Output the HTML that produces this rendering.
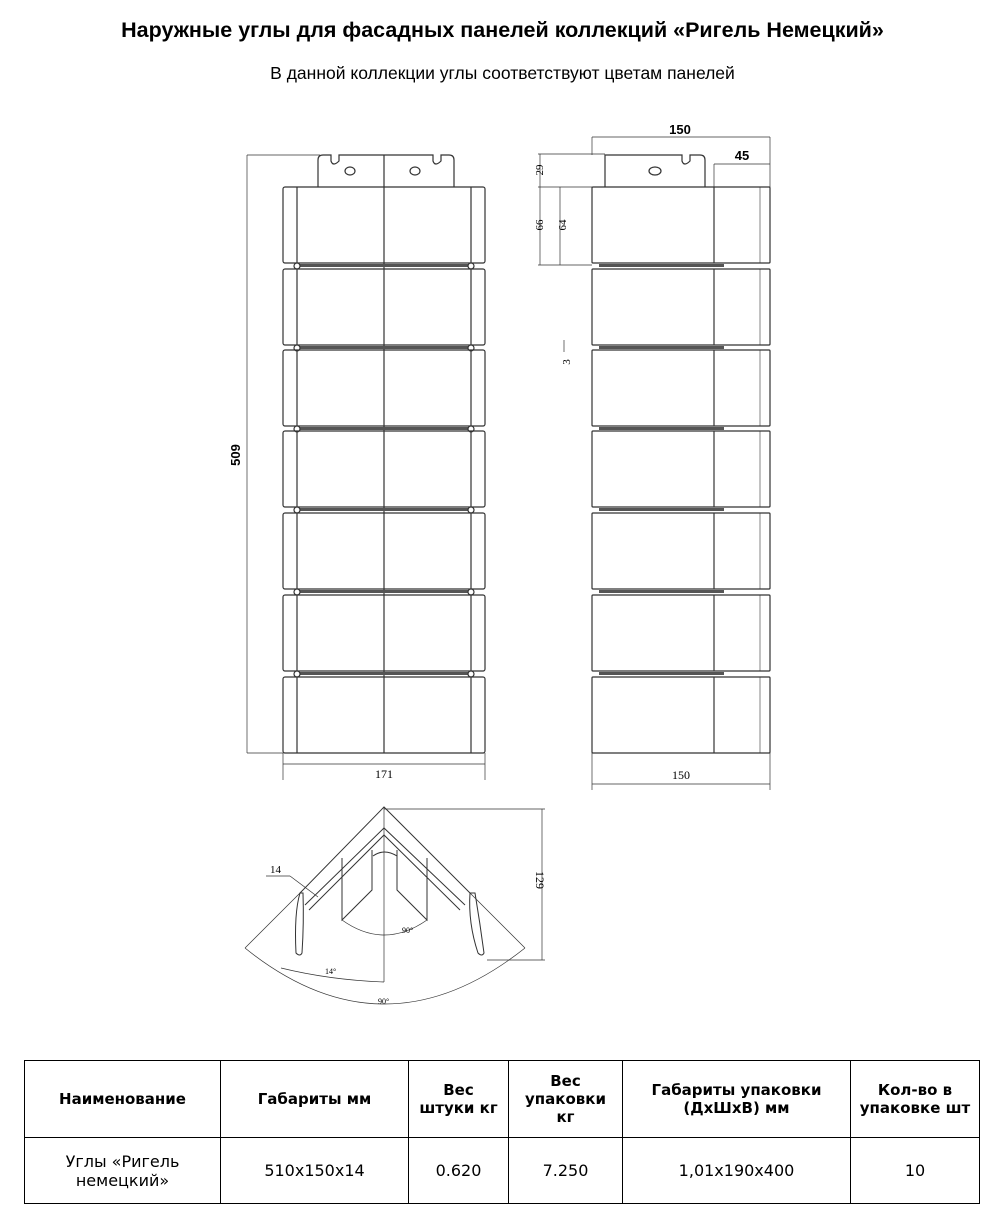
<!DOCTYPE html>
<html><head><meta charset="utf-8"><style>
body{margin:0;width:989px;height:1231px;background:#fff;font-family:"Liberation Sans",sans-serif;position:relative;overflow:hidden}
.t{position:absolute;left:0;width:989px;text-align:center;white-space:nowrap}
table{position:absolute;left:24px;top:1060px;border-collapse:collapse;font-family:"DejaVu Sans","Liberation Sans",sans-serif;font-size:15px}
td{border:1px solid #000;text-align:center;padding:0}
</style></head><body>
<div class="t" style="top:18px;font-size:21.5px;font-weight:bold;left:8px">Наружные углы для фасадных панелей коллекций «Ригель Немецкий»</div>
<div class="t" style="top:63px;font-size:17.5px;left:8px">В данной коллекции углы соответствуют цветам панелей</div>
<svg width="989" height="1040" style="position:absolute;left:0;top:0" fill="none" stroke="#333" stroke-width="1.2" font-family="Liberation Serif">
<g>
<path d="M318 187 V160 q0-5 5-5 h8 v6 q2 6 8 0 v-6 h94 v6 q2 6 8 0 v-6 h8 q5 0 5 5 v27"/>
<line x1="384" y1="155" x2="384" y2="753"/>
<ellipse cx="350" cy="171" rx="5" ry="4"/><ellipse cx="415" cy="171" rx="5" ry="4"/>
<line x1="247" y1="155" x2="320" y2="155" stroke-width="0.7"/>
<line x1="247" y1="155" x2="247" y2="753" stroke-width="0.7"/>
<line x1="247" y1="753" x2="283" y2="753" stroke-width="0.7"/>
<text x="240" y="455" transform="rotate(-90 240 455)" font-family="Liberation Sans" font-weight="bold" font-size="13" fill="#000" stroke="none" text-anchor="middle">509</text>
<line x1="283" y1="753" x2="283" y2="780" stroke-width="0.7"/><line x1="485" y1="753" x2="485" y2="780" stroke-width="0.7"/>
<line x1="283" y1="764" x2="485" y2="764" stroke-width="0.7"/>
<text x="384" y="778" font-size="12" fill="#000" stroke="none" text-anchor="middle">171</text>
</g>
<g>
<path d="M605 187 V155 h77 v6 q2 6 8 0 v-6 h10 q5 0 5 5 v27"/>
<ellipse cx="655" cy="171" rx="6" ry="4"/>
<line x1="592" y1="137" x2="770" y2="137" stroke-width="0.7"/>
<line x1="592" y1="137" x2="592" y2="155" stroke-width="0.7"/><line x1="770" y1="137" x2="770" y2="187" stroke-width="0.7"/>
<text x="680" y="134" font-family="Liberation Sans" font-weight="bold" font-size="13" fill="#000" stroke="none" text-anchor="middle">150</text>
<line x1="714" y1="164" x2="770" y2="164" stroke-width="0.7"/><line x1="714" y1="164" x2="714" y2="187" stroke-width="0.7"/>
<text x="742" y="160" font-family="Liberation Sans" font-weight="bold" font-size="13" fill="#000" stroke="none" text-anchor="middle">45</text>
<line x1="538" y1="154" x2="605" y2="154" stroke-width="0.7"/>
<line x1="538" y1="187" x2="592" y2="187" stroke-width="0.7"/>
<line x1="538" y1="265" x2="592" y2="265" stroke-width="0.7"/>
<line x1="540" y1="154" x2="540" y2="265" stroke-width="0.7"/>
<line x1="560" y1="187" x2="560" y2="265" stroke-width="0.7"/>
<text x="543" y="170" transform="rotate(-90 543 170)" font-size="11" fill="#000" stroke="none" text-anchor="middle">29</text>
<text x="543" y="225" transform="rotate(-90 543 225)" font-size="11" fill="#000" stroke="none" text-anchor="middle">66</text>
<text x="566" y="225" transform="rotate(-90 566 225)" font-size="11" fill="#000" stroke="none" text-anchor="middle">64</text>
<line x1="564" y1="340" x2="564" y2="352" stroke-width="0.7"/>
<text x="570" y="362" transform="rotate(-90 570 362)" font-size="11" fill="#000" stroke="none" text-anchor="middle">3</text>
<line x1="592" y1="753" x2="592" y2="790" stroke-width="0.7"/><line x1="770" y1="753" x2="770" y2="790" stroke-width="0.7"/>
<line x1="592" y1="784" x2="770" y2="784" stroke-width="0.7"/>
<text x="681" y="779" font-size="12" fill="#000" stroke="none" text-anchor="middle">150</text>
</g>
<g stroke-width="1">
<polyline points="300,893 384,807 470,893"/>
<polyline points="305,905 384,828 465,905"/>
<polyline points="309,910 384,835 460,910"/>
<line x1="384" y1="807" x2="384" y2="982" stroke-width="0.7"/>
<polyline points="342,858 342,920 372,890 372,850"/>
<polyline points="427,858 427,920 397,890 397,850"/>
<path d="M373 856 q11-8 24 0"/>
<path d="M342 920 Q384 950 427 920" stroke-width="0.7"/>
<text x="402" y="933" font-size="8" fill="#000" stroke="none">90°</text>
<path d="M300 893 q-6 20-4 60 q4 4 6 0 q2-30 1-60z"/>
<path d="M470 893 q-2 30 8 60 q4 4 6 0 q-4-30-9-60z"/>
<line x1="266" y1="876" x2="290" y2="876" stroke-width="0.7"/><line x1="290" y1="876" x2="318" y2="897" stroke-width="0.7"/>
<text x="270" y="873" font-size="11" fill="#000" stroke="none">14</text>
<line x1="384" y1="809" x2="545" y2="809" stroke-width="0.7"/>
<line x1="487" y1="960" x2="545" y2="960" stroke-width="0.7"/>
<line x1="542" y1="809" x2="542" y2="960" stroke-width="0.7"/>
<text x="536" y="880" transform="rotate(90 536 880)" font-size="12" fill="#000" stroke="none" text-anchor="middle">129</text>
<path d="M245 948 Q384 1060 525 948" stroke-width="0.7"/>
<line x1="245" y1="948" x2="300" y2="893" stroke-width="0.7"/><line x1="525" y1="948" x2="470" y2="893" stroke-width="0.7"/>
<path d="M281 968 Q330 980 384 982" stroke-width="0.7"/>
<text x="325" y="974" font-size="8" fill="#000" stroke="none">14°</text>
<text x="378" y="1004" font-size="8" fill="#000" stroke="none">90°</text>
</g>
</svg>
<svg width="989" height="800" style="position:absolute;left:0;top:0" fill="none" stroke="#333" stroke-width="1.2">
<g id="r"></g>
</svg>
<script>
var s='',ys=[187,269,350,431,513,595,677];
ys.forEach(function(y,i){var h=76;
s+='<rect x="283" y="'+y+'" width="202" height="'+h+'" rx="2"/><line x1="297" y1="'+y+'" x2="297" y2="'+(y+h)+'"/><line x1="471" y1="'+y+'" x2="471" y2="'+(y+h)+'"/>';
s+='<rect x="592" y="'+y+'" width="178" height="'+h+'" rx="1"/><line x1="714" y1="'+y+'" x2="714" y2="'+(y+h)+'"/><line x1="760" y1="'+y+'" x2="760" y2="'+(y+h)+'" stroke-width="0.6"/>';
if(i<6){var g=y+h+1;s+='<rect x="297" y="'+g+'" width="174" height="3" fill="#555" stroke="none"/><rect x="599" y="'+g+'" width="125" height="3" fill="#555" stroke="none"/>'+
'<circle cx="297" cy="'+(g+2)+'" r="3" fill="#fff"/><circle cx="471" cy="'+(g+2)+'" r="3" fill="#fff"/>';}
});
document.getElementById('r').innerHTML=s;
</script>
<table>
<tr style="height:77px;font-weight:bold"><td style="width:195px">Наименование</td><td style="width:187px">Габариты мм</td><td style="width:99px">Вес<br>штуки кг</td><td style="width:113px">Вес<br>упаковки<br>кг</td><td style="width:227px">Габариты упаковки<br>(ДхШхВ) мм</td><td style="width:128px">Кол-во в<br>упаковке шт</td></tr>
<tr style="height:66px;font-size:16px"><td>Углы «Ригель<br>немецкий»</td><td>510x150x14</td><td>0.620</td><td>7.250</td><td>1,01x190x400</td><td>10</td></tr>
</table>
</body></html>
